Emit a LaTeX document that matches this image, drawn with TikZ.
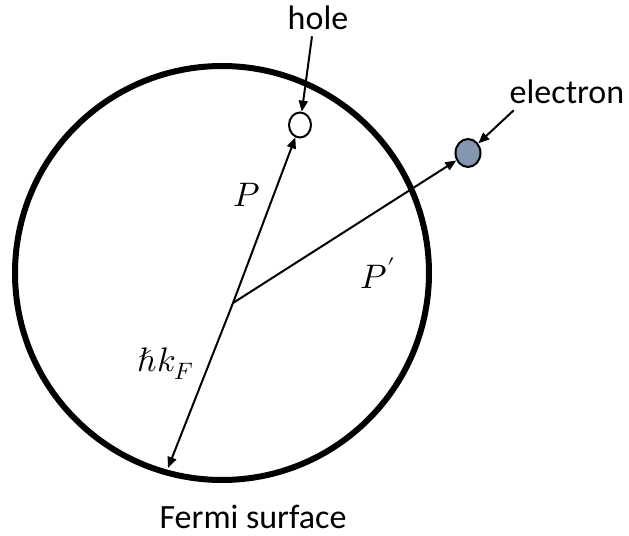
\documentclass[tikz,border=0pt]{standalone}
\usepackage{fontspec}
\usepackage{unicode-math}
\setmainfont{Carlito}
\setmathfont{Latin Modern Math}
\usetikzlibrary{arrows.meta, shapes.geometric}
\definecolor{elecfill}{HTML}{8497B0}

\begin{document}
\begin{tikzpicture}[x=0.5pt, y=-0.5pt, every node/.style={font=\fontsize{17}{20}\selectfont},
  vec/.style={-{Triangle[length=5.5pt, width=4.5pt]}, line width=1pt},
  particle/.style={ellipse, draw, line width=1pt, inner sep=0pt}]
  \useasboundingbox (0,0) rectangle (629,536);
  \draw[line width=3pt] (222,273) circle[radius=207];
  \coordinate (o) at (233,303);
  \coordinate (kf) at (168,468);
  \node[particle, fill=white, minimum width=11pt, minimum height=12.5pt] (hole) at (300,125) {};
  \node[particle, fill=elecfill, minimum width=12.5pt, minimum height=14pt] (elec) at (468,153) {};
  \node[anchor=base] (holetxt) at (318,29) {hole};
  \node[anchor=base] (electxt) at (567,103) {electron};
  \node[anchor=base] (fermi) at (253,528) {Fermi surface};
  \node (plab) at (247,195) {$P$};
  \node (pplab) at (378,273) {$P'$};
  \node (kflab) at (166,364) {$\hbar k_F$};
  \draw[vec] (o) -- (hole);
  \draw[vec] (o) -- (elec);
  \draw[vec] (o) -- (kf);
  \draw[vec] ([xshift=-3pt]holetxt.south) -- (hole);
  \draw[vec] ([xshift=5.5pt]electxt.south west) -- (elec);
\end{tikzpicture}
\end{document}
